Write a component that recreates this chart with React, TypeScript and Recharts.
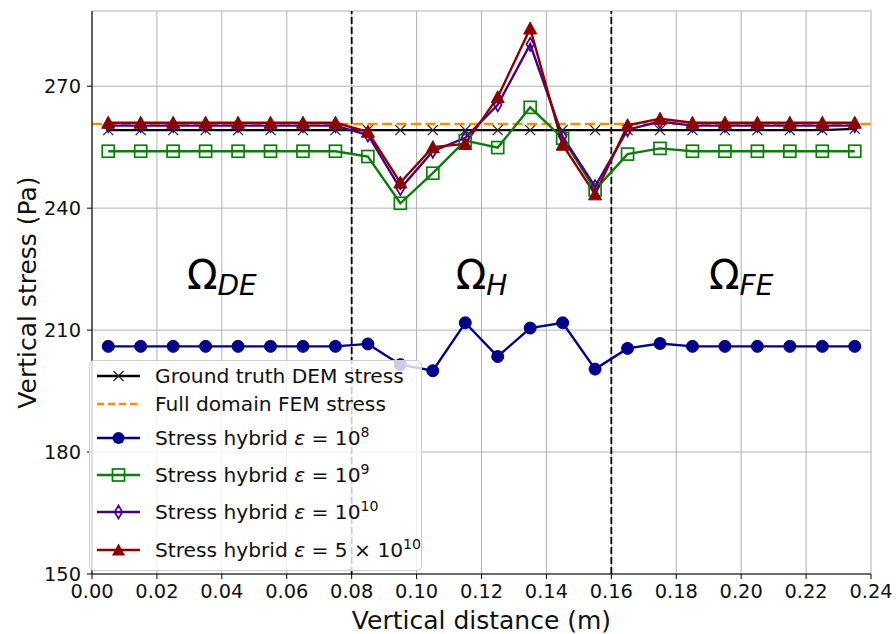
import React from "react";
import {
  ComposedChart,
  Line,
  Scatter,
  XAxis,
  YAxis,
  CartesianGrid,
  ReferenceLine,
} from "recharts";

// sample positions along the column (cell centres)
const positions = [
  0.005, 0.015, 0.025, 0.035, 0.045, 0.055, 0.065, 0.075, 0.085, 0.095, 0.105, 0.115,
  0.125, 0.135, 0.145, 0.155, 0.165, 0.175, 0.185, 0.195, 0.205, 0.215, 0.225, 0.235,
];

const demStress = [
  259.2, 259.2, 259.2, 259.2, 259.2, 259.2, 259.2, 259.2, 259.2, 259.2, 259.2, 259.2,
  259.2, 259.2, 259.2, 259.2, 259.2, 259.2, 259.2, 259.2, 259.2, 259.2, 259.2, 259.5,
];

const femX = [0, 0.24];
const femStress = [260.7, 260.7];

const hybridE8 = [
  206.0, 206.0, 206.0, 206.0, 206.0, 206.0, 206.0, 206.0, 206.6, 201.5, 200.0, 211.8,
  203.5, 210.5, 211.8, 200.4, 205.5, 206.7, 206.0, 206.0, 206.0, 206.0, 206.0, 206.0,
];

const hybridE9 = [
  254.0, 254.0, 254.0, 254.0, 254.0, 254.0, 254.0, 254.0, 252.7, 241.2, 248.6, 256.6,
  254.9, 264.8, 257.2, 244.5, 253.3, 254.7, 254.0, 254.0, 254.0, 254.0, 254.0, 254.0,
];

const hybridE10 = [
  260.3, 260.3, 260.3, 260.3, 260.3, 260.3, 260.3, 260.3, 258.0, 244.8, 254.0, 257.3,
  265.4, 280.3, 257.6, 245.3, 259.3, 261.3, 260.3, 260.3, 260.3, 260.3, 260.3, 260.3,
];

const hybridE5x10 = [
  261.0, 261.0, 261.0, 261.0, 261.0, 261.0, 261.0, 261.0, 258.8, 246.3, 255.0, 255.8,
  267.3, 284.2, 255.6, 243.4, 260.4, 262.0, 261.0, 261.0, 261.0, 261.0, 261.0, 261.0,
];

const xTicks = [0, 0.02, 0.04, 0.06, 0.08, 0.1, 0.12, 0.14, 0.16, 0.18, 0.2, 0.22, 0.24];
const yTicks = [150, 180, 210, 240, 270];

const interfaceX = [0.08, 0.16];
const regionNames = ["DE", "H", "FE"];
const regionX = [0.04, 0.12, 0.2];
const regionY = 220;

const FONT = "'DejaVu Sans', Verdana, sans-serif";
const C_DEM = "#000000";
const C_FEM = "#ff8c00";
const C_E8 = "#00008b";
const C_E9 = "#0a7d0a";
const C_E10 = "#4b0082";
const C_E5 = "#8b0000";
const LW = 2.4;

const rows = positions.map((x, i) => ({
  x,
  dem: demStress[i],
  e8: hybridE8[i],
  e9: hybridE9[i],
  e10: hybridE10[i],
  e5: hybridE5x10[i],
}));
const femRows = femX.map((x, i) => ({ x, fem: femStress[i] }));
const regionRows = regionX.map((x, i) => ({ x, y: regionY, name: regionNames[i] }));

// marker shapes
function crossPath(cx: number, cy: number, h = 5) {
  return `M${cx - h},${cy - h}L${cx + h},${cy + h}M${cx - h},${cy + h}L${cx + h},${cy - h}`;
}
function trianglePoints(cx: number, cy: number, h = 6.5) {
  return `${cx},${cy - h} ${cx + h},${cy + h * 0.85} ${cx - h},${cy + h * 0.85}`;
}
function diamondPoints(cx: number, cy: number) {
  return `${cx},${cy - 6.5} ${cx + 3.8},${cy} ${cx},${cy + 6.5} ${cx - 3.8},${cy}`;
}

const CrossDot = (p: any) => (
  <path key={`dem-${p.index}`} d={crossPath(p.cx, p.cy)} stroke="#222" strokeWidth={1.3} fill="none" />
);
const CircleDot = (p: any) => (
  <circle key={`e8-${p.index}`} cx={p.cx} cy={p.cy} r={6} fill={C_E8} stroke={C_E8} />
);
const SquareDot = (p: any) => (
  <rect
    key={`e9-${p.index}`}
    x={p.cx - 6}
    y={p.cy - 6}
    width={12}
    height={12}
    fill="none"
    stroke={C_E9}
    strokeWidth={1.7}
  />
);
const DiamondDot = (p: any) => (
  <polygon key={`e10-${p.index}`} points={diamondPoints(p.cx, p.cy)} fill="none" stroke={C_E10} strokeWidth={1.7} />
);
const TriangleDot = (p: any) => (
  <polygon key={`e5-${p.index}`} points={trianglePoints(p.cx, p.cy)} fill={C_E5} stroke={C_E5} strokeWidth={1} />
);

const RegionLabel = (p: any) => (
  <text x={p.cx} y={p.cy} textAnchor="middle" fontFamily={FONT} fill="#000">
    <tspan fontSize={40}>Ω</tspan>
    <tspan fontSize={28} fontStyle="italic" dy={6}>
      {p.payload.name}
    </tspan>
  </text>
);

type LegendRow = {
  top: number;
  color: string;
  dash?: string;
  marker: (cx: number, cy: number) => React.ReactNode;
  label: React.ReactNode;
};

const sup = (s: string) => (
  <span style={{ fontSize: "0.7em", position: "relative", top: "-0.55em" }}>{s}</span>
);
const eps = <span style={{ fontStyle: "italic" }}>ε</span>;

const legendRows: LegendRow[] = [
  {
    top: 15,
    color: C_DEM,
    marker: (cx, cy) => <path d={crossPath(cx, cy)} stroke="#222" strokeWidth={1.3} fill="none" />,
    label: "Ground truth DEM stress",
  },
  { top: 43, color: C_FEM, dash: "7 4", marker: () => null, label: "Full domain FEM stress" },
  {
    top: 77,
    color: C_E8,
    marker: (cx, cy) => <circle cx={cx} cy={cy} r={6} fill={C_E8} />,
    label: <>Stress hybrid {eps} = 10{sup("8")}</>,
  },
  {
    top: 114,
    color: C_E9,
    marker: (cx, cy) => (
      <rect x={cx - 6} y={cy - 6} width={12} height={12} fill="none" stroke={C_E9} strokeWidth={1.7} />
    ),
    label: <>Stress hybrid {eps} = 10{sup("9")}</>,
  },
  {
    top: 151,
    color: C_E10,
    marker: (cx, cy) => <polygon points={diamondPoints(cx, cy)} fill="none" stroke={C_E10} strokeWidth={1.7} />,
    label: <>Stress hybrid {eps} = 10{sup("10")}</>,
  },
  {
    top: 189,
    color: C_E5,
    marker: (cx, cy) => <polygon points={trianglePoints(cx, cy)} fill={C_E5} />,
    label: <>Stress hybrid {eps} = 5 × 10{sup("10")}</>,
  },
];

function StressLegend() {
  return (
    <div
      style={{
        position: "absolute",
        left: 89,
        top: 360,
        width: 333,
        height: 211,
        boxSizing: "border-box",
        border: "1px solid #cccccc",
        borderRadius: 5,
        background: "rgba(255,255,255,0.8)",
        fontFamily: FONT,
        fontSize: 20.2,
        color: "#111",
      }}
    >
      {legendRows.map((r, i) => (
        <div
          key={i}
          style={{
            position: "absolute",
            left: 0,
            top: r.top - 15,
            height: 30,
            display: "flex",
            alignItems: "center",
            whiteSpace: "nowrap",
          }}
        >
          <svg width={56} height={30} style={{ flex: "none" }}>
            <line x1={7} x2={50} y1={15} y2={15} stroke={r.color} strokeWidth={LW} strokeDasharray={r.dash} />
            {r.marker(28.5, 15)}
          </svg>
          <span style={{ marginLeft: 9 }}>{r.label}</span>
        </div>
      ))}
    </div>
  );
}

const tickStyle = { fill: "#111", fontSize: 19.4, fontFamily: FONT };

export default function App() {
  return (
    <div style={{ position: "absolute", left: 0, top: 0, width: 896, height: 634, background: "#fff" }}>
      <ComposedChart width={896} height={634} data={rows} margin={{ top: 11, right: 25, left: 20, bottom: 0 }}>
        <CartesianGrid stroke="#b0b0b0" strokeWidth={1} />
        <XAxis
          dataKey="x"
          type="number"
          domain={[0, 0.24]}
          ticks={xTicks}
          allowDataOverflow
          tickFormatter={(v: number) => v.toFixed(2)}
          tick={tickStyle}
          tickSize={5}
          tickMargin={5}
          tickLine={{ stroke: "#000" }}
          axisLine={{ stroke: "#000", strokeWidth: 1.1 }}
          height={60}
          label={{
            value: "Vertical distance (m)",
            position: "insideBottom",
            offset: 5,
            style: { fill: "#111", fontSize: 25, fontFamily: FONT },
          }}
        />
        <XAxis
          xAxisId="top"
          orientation="top"
          type="number"
          domain={[0, 0.24]}
          height={0}
          tick={false}
          tickLine={false}
          axisLine={{ stroke: "#000", strokeWidth: 1.1 }}
        />
        <YAxis
          type="number"
          domain={[150, 288.5]}
          ticks={yTicks}
          allowDataOverflow
          tick={tickStyle}
          tickSize={5}
          tickMargin={6}
          tickLine={{ stroke: "#000" }}
          axisLine={{ stroke: "#000", strokeWidth: 1.1 }}
          width={72}
          label={{
            value: "Vertical stress (Pa)",
            angle: -90,
            position: "insideLeft",
            offset: 7,
            style: { fill: "#111", fontSize: 25, fontFamily: FONT, textAnchor: "middle" },
          }}
        />
        <YAxis
          yAxisId="right"
          orientation="right"
          type="number"
          domain={[150, 288.5]}
          width={0}
          tick={false}
          tickLine={false}
          axisLine={{ stroke: "#000", strokeWidth: 1.1 }}
        />
        {interfaceX.map((x) => (
          <ReferenceLine key={x} x={x} stroke="#000" strokeWidth={1.8} strokeDasharray="7 3" />
        ))}
        <Line
          dataKey="dem"
          stroke={C_DEM}
          strokeWidth={LW}
          dot={CrossDot}
          activeDot={false}
          isAnimationActive={false}
        />
        <Line
          data={femRows}
          dataKey="fem"
          stroke={C_FEM}
          strokeWidth={LW}
          strokeDasharray="10 4.5"
          dot={false}
          activeDot={false}
          isAnimationActive={false}
        />
        <Line dataKey="e8" stroke={C_E8} strokeWidth={LW} dot={CircleDot} activeDot={false} isAnimationActive={false} />
        <Line dataKey="e9" stroke={C_E9} strokeWidth={LW} dot={SquareDot} activeDot={false} isAnimationActive={false} />
        <Line dataKey="e10" stroke={C_E10} strokeWidth={LW} dot={DiamondDot} activeDot={false} isAnimationActive={false} />
        <Line dataKey="e5" stroke={C_E5} strokeWidth={LW} dot={TriangleDot} activeDot={false} isAnimationActive={false} />
        <Scatter data={regionRows} dataKey="y" shape={RegionLabel} isAnimationActive={false} />
      </ComposedChart>
      <StressLegend />
    </div>
  );
}
